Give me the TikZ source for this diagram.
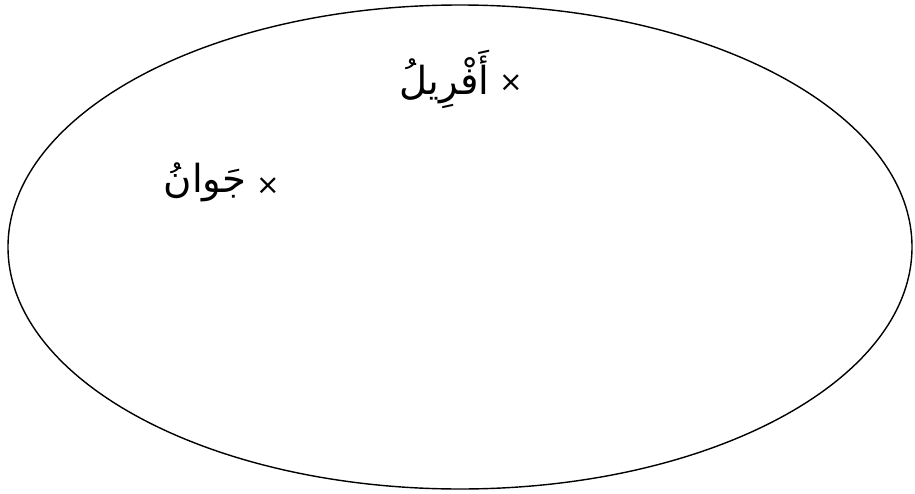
\documentclass[tikz,border=0pt]{standalone}
\usepackage{fontspec}
\newfontfamily\arabicfont[Script=Arabic]{DejaVu Sans}
\newfontfamily\symfont{DejaVu Sans}
\TeXXeTstate=1
\usetikzlibrary{shapes.geometric,positioning}

\begin{document}
\begin{tikzpicture}[every node/.style={inner sep=1pt},
  monthmark/.style={font=\symfont\fontsize{16}{18}\selectfont},
  monthlabel/.style={font=\arabicfont\fontsize{22}{26}\selectfont}]
\useasboundingbox (0,0) rectangle (18.3,9.86);

% the set
\node[draw,thick,ellipse,minimum width=18.08cm,minimum height=9.68cm,inner sep=0pt] (set) at (9.2,4.92) {};

% elements
\node[monthmark] (xapr) at (10.22,8.2) {×};
\node[monthlabel,left=3pt of xapr,yshift=2pt] (apr) {\beginR أَفْرِيلُ\endR};

\node[monthmark] (xjun) at (5.36,6.14) {×};
\node[monthlabel,left=3pt of xjun,yshift=2pt] (jun) {\beginR جَوانُ\endR};

\end{tikzpicture}
\end{document}
